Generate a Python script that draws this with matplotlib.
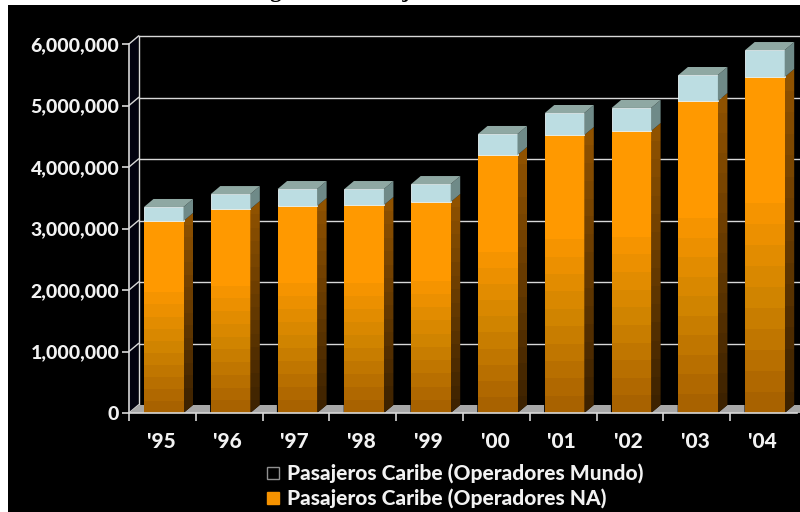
import numpy as np
import matplotlib
matplotlib.use('Agg')
import matplotlib.pyplot as plt
from matplotlib.patches import Polygon, Rectangle
from matplotlib.colors import LinearSegmentedColormap

years = ["'95", "'96", "'97", "'98", "'99", "'00", "'01", "'02", "'03", "'04"]
na_pax = [3122000, 3317000, 3366000, 3382000, 3431000, 4195000, 4520000, 4585000, 5073000, 5463000]
world_pax = [228000, 243000, 276000, 260000, 292000, 342000, 358000, 375000, 423000, 439000]
y_ticks = [0, 1000000, 2000000, 3000000, 4000000, 5000000, 6000000]
title = 'Figura 11: Pasajeros de Cruceros al Caribe'
legend_labels = ['Pasajeros Caribe (Operadores Mundo)', 'Pasajeros Caribe (Operadores NA)']

W, H = 800, 512
fig = plt.figure(figsize=(W / 100, H / 100), dpi=100, facecolor='white')

# black picture area, the white strip on top and left is part of the page
bg = fig.add_axes([8 / W, 0, 1 - 8 / W, 1 - 5 / H])
bg.set_facecolor('black')
bg.set_xticks([])
bg.set_yticks([])
for s in bg.spines.values():
    s.set_visible(False)

ax = fig.add_axes([129 / W, (H - 413) / H, 668 / W, 369 / H])
ax.patch.set_alpha(0)
ax.set_xlim(-0.5, 9.5)
ax.set_ylim(0, 6000000)

# depth of the fake 3d, as px converted to data units
px_x = 10 / 668
px_y = 6000000 / 369
dx = 9.5 * px_x
dy = 8 * px_y
bar_w = 39.5 * px_x

orange = LinearSegmentedColormap.from_list('o', ['#a86200', '#d08400', '#ff9900', '#ff9900'])
brown = LinearSegmentedColormap.from_list('b', ['#3d2200', '#8f5200'])
grad = np.linspace(0, 1, 16).reshape(-1, 1)
line_c = '#d8d8d8'

# back wall and grid
left = -0.5
right = 9.5
for v in y_ticks:
    ax.plot([left, left + dx], [v, v + dy], color=line_c, lw=1, clip_on=False, zorder=1)
    if v > 0:
        ax.plot([left + dx, right + dx], [v + dy, v + dy], color=line_c, lw=1, clip_on=False, zorder=1)
ax.plot([left + dx, left + dx], [dy, 6000000 + dy], color=line_c, lw=1, zorder=1, clip_on=False)
ax.add_patch(Polygon([(left, 0), (left + dx, dy), (left + dx, 6000000 + dy), (left, 6000000)],
                     fc='#02020f', ec='none', zorder=0.5, clip_on=False))
ax.add_patch(Polygon([(left, 0), (left + dx, dy), (left + 1.6 * dx, dy), (left + 1.6 * dx, 0)],
                     fc='#a8a8a8', ec='none', zorder=1.5, clip_on=False))

for i, (na, wo) in enumerate(zip(na_pax, world_pax)):
    x0 = i - 0.5 + 15 * px_x
    x1 = x0 + bar_w
    total = na + wo
    # floor shadow next to the bar
    ax.add_patch(Polygon([(x1, 0), (x1 + dx, dy), (x1 + 2.8 * dx, dy), (x1 + 2.8 * dx, 0)],
                         fc='#a8a8a8', ec='none', zorder=1.5, clip_on=False))
    # orange front and side
    ax.imshow(grad, extent=(x0, x1, 0, na), origin='lower', cmap=orange, aspect='auto',
              interpolation='nearest', zorder=3)
    side = Polygon([(x1, 0), (x1 + dx, dy), (x1 + dx, na + dy), (x1, na)], fc='none', ec='none', zorder=3,
                   clip_on=False)
    ax.add_patch(side)
    im = ax.imshow(grad, extent=(x1, x1 + dx, 0, na + dy), origin='lower', cmap=brown, aspect='auto',
                   interpolation='nearest', zorder=3)
    im.set_clip_path(side)
    # blue cap
    ax.add_patch(Rectangle((x0, na), bar_w, wo, fc='#bcdde2', ec='#e8f4f6', lw=0.6, zorder=4, clip_on=False))
    ax.add_patch(Polygon([(x1, na), (x1 + dx, na + dy), (x1 + dx, total + dy), (x1, total)],
                         fc='#6f8a88', ec='none', zorder=4, clip_on=False))
    ax.add_patch(Polygon([(x0, total), (x0 + dx, total + dy), (x1 + dx, total + dy), (x1, total)],
                         fc='#8fa8a3', ec='none', zorder=4, clip_on=False))

ax.set_xlim(-0.5, 9.5)
ax.set_ylim(0, 6000000)

ax.set_xticks(np.arange(-0.5, 9.5, 1), minor=False)
ax.set_xticklabels([])
ax.set_xticks(np.arange(len(years)) - 0.02, minor=True)
ax.set_xticklabels(years, minor=True, color='#f2f2f2', fontsize=15, fontweight='black', family='Lato')
ax.tick_params(axis='x', which='major', length=6, width=1.2, color=line_c, direction='out')
ax.tick_params(axis='x', which='minor', length=0, pad=14)
ax.set_yticks(y_ticks)
ax.set_yticklabels([f'{v:,}' for v in y_ticks], color='#f2f2f2', fontsize=14, fontweight='black', family='Lato')
ax.tick_params(axis='y', length=5, width=1.2, color=line_c, pad=2)
for name, s in ax.spines.items():
    s.set_visible(name in ('left', 'bottom'))
    s.set_color(line_c)
    s.set_linewidth(1.2)
    s.set_zorder(6)

# legend by hand, the markers are small boxes
for k, (lab, fc, ec) in enumerate(zip(legend_labels, ['black', '#f59200'], ['#909090', '#f59200'])):
    y = (H - 473 - k * 25) / H
    fig.patches.append(Rectangle((267 / W, y - 6 / H), 12 / W, 12 / H, transform=fig.transFigure,
                                 fc=fc, ec=ec, lw=1, figure=fig))
    fig.text(287 / W, y, lab, color='#f2f2f2', fontsize=15, fontweight='black', family='Lato', va='center')

# title is cut by the black area, only its feet show
fig.text(250 / W, (H + 9) / H, title, color='black', fontsize=16.5, fontweight='bold', family='Liberation Serif',
         ha='left', va='center')

fig.savefig('out.png', dpi=100, facecolor=fig.get_facecolor())
